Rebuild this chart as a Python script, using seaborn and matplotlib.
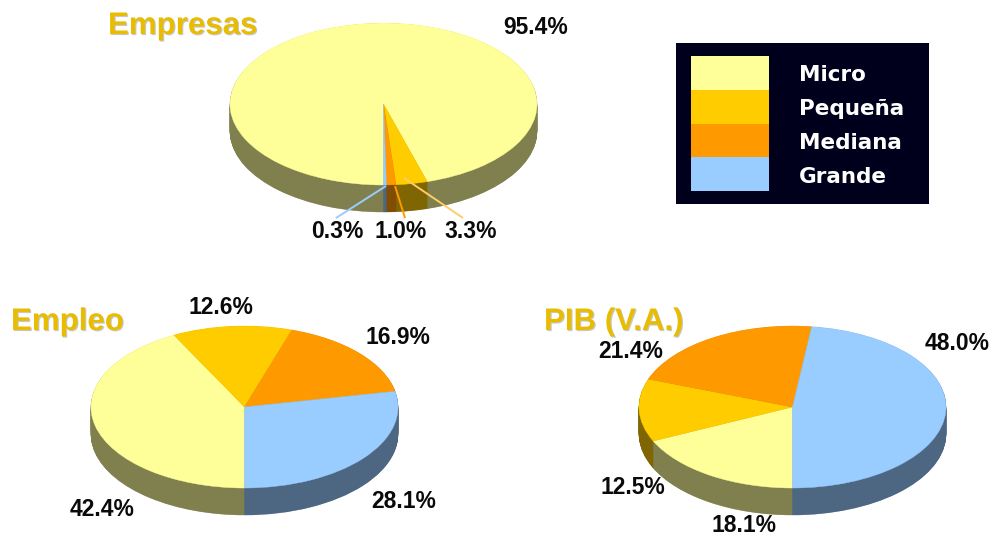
import matplotlib
matplotlib.use('Agg')
import matplotlib.pyplot as plt
import matplotlib.patches as mpatches
import matplotlib.patheffects as pe
import numpy as np
import seaborn as sns

# datos
categorias = ['Micro', 'Pequeña', 'Mediana', 'Grande']
empresas = [95.4, 3.3, 1.0, 0.3]
empleo = [42.4, 12.6, 16.9, 28.1]
pib = [18.1, 12.5, 21.4, 48.0]
titulos = ['Empresas', 'Empleo', 'PIB (V.A.)']

sns.set_theme(style='white')
plt.rcParams['font.family'] = ['Liberation Sans', 'DejaVu Sans']

W, H = 993, 536
colores = sns.color_palette(['#FFFF99', '#FFCC00', '#FF9900', '#99CCFF'])
laterales = [tuple(np.array(c) * 0.5 + np.array([0, 0, 0.01])) for c in colores]

fig = plt.figure(figsize=(W / 100, H / 100), dpi=100, facecolor='white')

RX, RY, PROF = 153.5, 81, 27


def pastel(valores, cx, cy):
    # un pie aplastado por eje + pies apilados para el lateral
    ax = fig.add_axes([(cx - RX) / W, 1 - (cy + RY + PROF) / H,
                       2 * RX / W, (2 * RY + PROF) / H])
    for k in np.arange(PROF, 0, -0.5):
        ax.pie(valores, colors=laterales, startangle=270, counterclock=False,
               center=(0, -k / RY))
    ax.pie(valores, colors=colores, startangle=270, counterclock=False)
    ax.set_aspect('auto')
    ax.set_xlim(-1, 1)
    ax.set_ylim(-1 - PROF / RY, 1)
    for p in ax.patches:
        p.set_edgecolor(p.get_facecolor())
        p.set_linewidth(0.3)
        p.set_clip_on(False)
    ax.axis('off')
    return ax


pastel(empresas, 383.5, 104)
pastel(empleo, 244.5, 407)
pastel(pib, 792.5, 407)

# capa en pixeles para textos, guias y leyenda
capa = fig.add_axes([0, 0, 1, 1], facecolor='none')
capa.set_xlim(0, W)
capa.set_ylim(H, 0)
capa.axis('off')

for col, x0, y0, x1, y1 in [(colores[3], 386, 186, 336, 218),
                            (colores[2], 395, 186, 405, 218),
                            ('#FFCC66', 404, 178, 463, 218)]:
    capa.plot([x0, x1], [y0, y1], color=col, lw=1.4, solid_capstyle='butt')

pos_titulos = [(108, 26), (11, 322), (544, 322)]
for t, (x, y) in zip(titulos, pos_titulos):
    capa.text(x, y, t, fontsize=22.5, fontweight='bold', color='#E8BC00', ha='left', va='center',
              path_effects=[pe.withSimplePatchShadow(offset=(0.8, -0.8),
                                                     shadow_rgbFace='#C8C8C8', alpha=1)])

pos_emp = [(536, 27), (471, 232), (401, 231), (337, 232)]
pos_empleo = [(102, 510), (221, 308), (398, 337), (404, 502)]
pos_pib = [(744, 525), (633, 487), (631, 351), (957, 344)]
for vals, posiciones in [(empresas, pos_emp), (empleo, pos_empleo), (pib, pos_pib)]:
    for v, (x, y) in zip(vals, posiciones):
        capa.text(x, y, f'{v:.1f}%', fontsize=16.5, fontweight='bold', color='#0A0A0A',
                  ha='center', va='center')

# leyenda
capa.add_patch(mpatches.Rectangle((676, 43), 253, 161, facecolor='#00001C', edgecolor='none'))
alto = 135 / len(categorias)
for i, (cat, col) in enumerate(zip(categorias, colores)):
    capa.add_patch(mpatches.Rectangle((691, 56 + i * alto), 78, alto, facecolor=col, edgecolor='none'))
    capa.text(799, 56 + i * alto + alto / 2 + 2.5, cat, color='white', fontsize=15.5, fontweight='bold',
              family='DejaVu Sans', ha='left', va='center')

fig.savefig('out.png', dpi=100)
